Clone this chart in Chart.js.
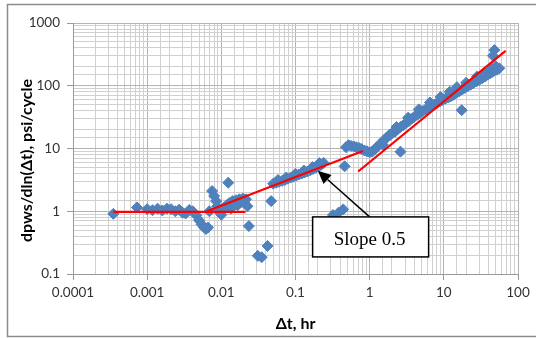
<!DOCTYPE html>
<html>
<head>
<meta charset="utf-8">
<script src="https://cdn.jsdelivr.net/npm/chart.js@4.4.1/dist/chart.umd.min.js"></script>
<style>
  html, body { margin: 0; padding: 0; background: #fff; }
  canvas { display: block; }
</style>
</head>
<body>
<canvas id="derivative-chart" width="536" height="338"></canvas>
<script>
// Δt, hr
const deltaT = [
  0.00035, 0.00073,
  0.00100, 0.00118, 0.00138, 0.00160, 0.00185, 0.00210, 0.00240, 0.00270, 0.00300, 0.00330, 0.00370, 0.00410,
  0.00460, 0.00500, 0.00540, 0.00580, 0.00620, 0.00660,
  0.00690, 0.00750, 0.00800, 0.00850, 0.00880, 0.00920, 0.01000, 0.01040, 0.01100, 0.01180, 0.01240, 0.01280,
  0.01350, 0.01420, 0.01500, 0.01580, 0.01660, 0.01750, 0.01850, 0.01950, 0.02050, 0.02150, 0.02250, 0.02350,
  0.0310, 0.0350, 0.0420, 0.0470,
  0.050, 0.055, 0.060, 0.066, 0.072, 0.079, 0.086, 0.094, 0.103, 0.112, 0.122, 0.133, 0.145, 0.158, 0.172, 0.188, 0.205, 0.222, 0.240,
  0.058, 0.075, 0.100, 0.130, 0.170, 0.210,
  0.32, 0.38, 0.44, 0.46,
  0.48, 0.52, 0.56, 0.61, 0.66, 0.72, 0.78, 0.85, 0.92, 1.00, 1.08, 1.16,
  1.25, 1.40, 1.55, 1.70, 1.85, 2.0, 2.2, 2.4, 2.6, 2.6, 2.85, 3.1, 3.4, 3.7, 4.0, 4.4, 4.8, 5.2, 5.7, 6.2,
  6.8, 7.4, 8.1, 8.8, 9.6, 10.5, 11.5, 12.5, 13.6, 14.8, 16.2, 17.4, 17.6, 19.2, 21, 23, 25, 27.5, 30, 33,
  36, 39, 42, 45, 46, 48, 48, 52, 56,
  1.5, 1.9, 2.3, 3.3, 4.6, 6.5, 9.0, 12, 15, 20, 28, 35, 44, 50
];
// dpws/dln(Δt), psi/cycle
const derivative = [
  0.91, 1.15,
  1.08, 1.04, 1.10, 1.03, 1.10, 1.08, 1.00, 1.06, 0.95, 0.92, 1.05, 1.00,
  0.86, 0.72, 0.62, 0.56, 0.52, 0.55,
  1.00, 2.10, 1.75, 1.45, 1.20, 1.00, 0.88, 1.05, 1.15, 1.25, 2.85, 1.35,
  1.10, 1.45, 1.30, 1.50, 1.25, 1.55, 1.40, 1.60, 1.35, 1.55, 1.20, 0.58,
  0.195, 0.185, 0.28, 1.45,
  2.75, 2.85, 2.95, 3.05, 3.15, 3.30, 3.45, 3.55, 3.70, 3.85, 4.00, 4.15, 4.30, 4.50, 4.70, 4.95, 5.20, 5.50, 5.90,
  3.15, 3.45, 3.95, 4.45, 5.05, 5.85,
  0.87, 0.95, 1.07, 5.2,
  10.5, 11.3, 11.0, 10.8, 10.5, 10.2, 9.8, 9.3, 9.0, 8.7, 8.9, 9.6,
  10.5, 12.0, 13.5, 15.0, 16.5, 17.5, 18.5, 20.5, 22.0, 8.9, 23.5, 25.5, 27.5, 30, 32, 34.5, 37, 39.5, 42, 44.5,
  47, 50, 53, 56, 59, 62, 65, 68, 72, 77, 82, 40.8, 87, 92, 98, 104, 110, 117, 124, 132,
  140, 150, 158, 166, 300, 174, 370, 180, 190,
  11.5, 16.5, 22, 31, 42, 54, 66, 80, 95, 112, 140, 160, 185, 205
];

// red straight-line fits
const flatLineX = [0.00035, 0.0212];
const flatLineY = [0.98, 0.98];
const halfSlopeX = [0.0064, 0.81];
const halfSlopeY = [1.0, 9.1];
const unitSlopeX = [0.7, 68];
const unitSlopeY = [4.3, 360];

const xTickLabels = ['0.0001', '0.001', '0.01', '0.1', '1', '10', '100'];
const yTickLabels = ['0.1', '1', '10', '100', '1000'];

const slopeNote = { text: 'Slope 0.5', tipX: 0.2, tipY: 4.4, boxX: 1.03, boxY: 0.39 };

const pts = (xs, ys) => xs.map((x, i) => ({ x: x, y: ys[i] }));
const isDecade = v => Math.abs(Math.log10(v) - Math.round(Math.log10(v))) < 1e-6;
const decadeLabel = (v, labels, minExp) => isDecade(v) ? labels[Math.round(Math.log10(v)) - minExp] : '';

const gridColor = c => (c.tick && isDecade(c.tick.value)) ? '#B4B4B4' : '#D0D0D0';
const tickColor = c => (c.tick && isDecade(c.tick.value)) ? '#999' : 'rgba(0,0,0,0)';

Chart.defaults.font.family = 'Lato';

// frame, y title and the slope call-out
const extras = {
  id: 'extras',
  afterDraw(chart) {
    const ctx = chart.ctx;
    const xs = chart.scales.x, ys = chart.scales.y;
    ctx.save();

    ctx.strokeStyle = '#8C8C8C';
    ctx.lineWidth = 1.5;
    ctx.strokeRect(7.5, 4.5, 560, 332);

    ctx.translate(27, 160.5);
    ctx.rotate(-Math.PI / 2);
    ctx.fillStyle = '#000';
    ctx.font = 'bold 16px Lato';
    ctx.textAlign = 'center';
    ctx.textBaseline = 'middle';
    ctx.fillText('dpws/dln(Δt), psi/cycle', 0, 0);
    ctx.setTransform(1, 0, 0, 1, 0, 0);

    const tx = xs.getPixelForValue(slopeNote.tipX), ty = ys.getPixelForValue(slopeNote.tipY);
    const bx = xs.getPixelForValue(slopeNote.boxX), by = ys.getPixelForValue(slopeNote.boxY);
    const bw = 116, bh = 40;
    const sx = bx - 1, sy = by - bh / 2;

    // arrow
    const ang = Math.atan2(ty - sy, tx - sx);
    const head = 13, half = 6;
    const hx = tx - head * Math.cos(ang), hy = ty - head * Math.sin(ang);
    ctx.strokeStyle = '#000';
    ctx.lineWidth = 1.5;
    ctx.beginPath();
    ctx.moveTo(sx, sy);
    ctx.lineTo(hx, hy);
    ctx.stroke();
    ctx.fillStyle = '#000';
    ctx.beginPath();
    ctx.moveTo(tx, ty);
    ctx.lineTo(hx + half * Math.sin(ang), hy - half * Math.cos(ang));
    ctx.lineTo(hx - half * Math.sin(ang), hy + half * Math.cos(ang));
    ctx.closePath();
    ctx.fill();

    // box
    ctx.fillStyle = '#fff';
    ctx.fillRect(bx - bw / 2, by - bh / 2, bw, bh);
    ctx.strokeStyle = '#000';
    ctx.lineWidth = 1.5;
    ctx.strokeRect(bx - bw / 2, by - bh / 2, bw, bh);
    ctx.fillStyle = '#000';
    ctx.font = '19px "Liberation Serif"';
    ctx.textAlign = 'center';
    ctx.textBaseline = 'middle';
    ctx.fillText(slopeNote.text, bx - 1, by + 3);
    ctx.restore();
  }
};

const fitLine = (xs, ys) => ({
  type: 'line',
  data: pts(xs, ys),
  borderColor: '#FF0000',
  borderWidth: 2.2,
  pointRadius: 0,
  fill: false,
  order: 0
});

new Chart(document.getElementById('derivative-chart').getContext('2d'), {
  type: 'scatter',
  data: {
    datasets: [
      fitLine(flatLineX, flatLineY),
      fitLine(halfSlopeX, halfSlopeY),
      fitLine(unitSlopeX, unitSlopeY),
      {
        type: 'scatter',
        data: pts(deltaT, derivative),
        pointStyle: 'rectRot',
        pointRadius: 5.5,
        backgroundColor: '#4F81BD',
        borderColor: '#4F81BD',
        borderWidth: 1,
        order: 1
      }
    ]
  },
  options: {
    responsive: false,
    animation: false,
    devicePixelRatio: 1,
    layout: { padding: { top: 23, right: 18, left: 0, bottom: 0 } },
    plugins: { legend: { display: false }, tooltip: { enabled: false } },
    scales: {
      x: {
        type: 'logarithmic',
        min: 0.0001,
        max: 100,
        afterFit: s => { s.height = 64; },
        border: { color: '#999', width: 1 },
        grid: { color: gridColor, tickColor: tickColor, tickLength: 6 },
        ticks: {
          autoSkip: false,
          maxRotation: 0,
          padding: 5,
          color: '#333',
          font: { size: 13.5 },
          callback: v => decadeLabel(v, xTickLabels, -4)
        },
        title: {
          display: true,
          text: 'Δt, hr',
          color: '#000',
          font: { size: 16, weight: 'bold' },
          padding: { top: 0, bottom: 4.5 }
        }
      },
      y: {
        type: 'logarithmic',
        min: 0.1,
        max: 1000,
        afterFit: s => { s.width = 73; },
        border: { color: '#999', width: 1 },
        grid: { color: gridColor, tickColor: tickColor, tickLength: 6 },
        ticks: {
          autoSkip: false,
          padding: 7,
          color: '#333',
          font: { size: 13.5 },
          callback: v => decadeLabel(v, yTickLabels, -1)
        }
      }
    }
  },
  plugins: [extras]
});
</script>
</body>
</html>
